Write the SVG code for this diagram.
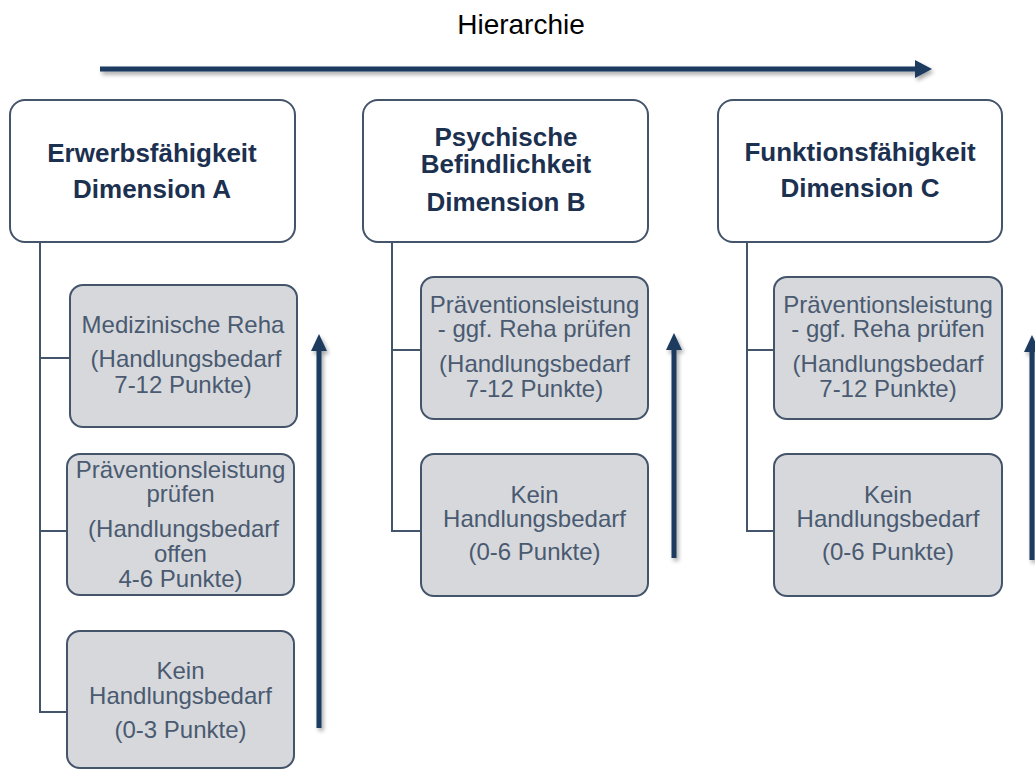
<svg xmlns="http://www.w3.org/2000/svg" width="1035" height="771" viewBox="0 0 1035 771">
<defs>
<filter id="sh" x="-10%" y="-10%" width="130%" height="130%">
<feGaussianBlur in="SourceAlpha" stdDeviation="2"/>
<feOffset dx="2" dy="3" result="b"/>
<feComponentTransfer><feFuncA type="linear" slope="0.35"/></feComponentTransfer>
<feMerge><feMergeNode/><feMergeNode in="SourceGraphic"/></feMerge>
</filter>
</defs>
<style>
.head{fill:#ffffff;stroke:#44546a;stroke-width:2}
.child{fill:#d6d8dc;stroke:#44546a;stroke-width:2}
.ht{font-family:"Liberation Sans",Arial,sans-serif;font-weight:bold;font-size:26px;fill:#1c3050;text-anchor:middle}
.ct{font-family:"Liberation Sans",Arial,sans-serif;font-size:24px;fill:#4a5a70;text-anchor:middle}
.title{font-family:"Liberation Sans",Arial,sans-serif;font-size:28px;fill:#000000;text-anchor:middle}
.conn{fill:none;stroke:#44546a;stroke-width:2}
.arr{stroke:#1b3a5e;stroke-width:5;fill:none}
.ah{fill:#1b3a5e}
</style>
<rect width="1035" height="771" fill="#ffffff"/>
<text class="title" x="521" y="34">Hierarchie</text>
<g id="arrows" filter="url(#sh)">
<line class="arr" x1="100" y1="69" x2="917" y2="69"/>
<polygon class="ah" points="932,69 915,60 915,78"/>
<line class="arr" x1="319" y1="728" x2="319" y2="349"/>
<polygon class="ah" points="319,334 311,351 327,351"/>
<line class="arr" x1="674" y1="558" x2="674" y2="348"/>
<polygon class="ah" points="674,333 666,350 682,350"/>
<line class="arr" x1="1032" y1="560" x2="1032" y2="350"/>
<polygon class="ah" points="1032,335 1024,352 1040,352"/>
</g>
<g id="connectors">
<path class="conn" d="M40 242 V712 H67 M40 358 H70 M40 531 H67"/>
<path class="conn" d="M392 242 V531 H421 M392 350 H421"/>
<path class="conn" d="M747 242 V531 H774 M747 350 H774"/>
</g>
<g id="headA">
<rect class="head" x="10" y="100" width="285" height="142" rx="15"/>
<text class="ht" x="152" y="162">Erwerbsfähigkeit</text>
<text class="ht" x="152" y="198">Dimension A</text>
</g>
<g id="headB">
<rect class="head" x="363" y="100" width="285" height="142" rx="15"/>
<text class="ht" x="506" y="146">Psychische</text>
<text class="ht" x="506" y="173">Befindlichkeit</text>
<text class="ht" x="506" y="211">Dimension B</text>
</g>
<g id="headC">
<rect class="head" x="718" y="100" width="284" height="142" rx="15"/>
<text class="ht" x="860" y="161">Funktionsfähigkeit</text>
<text class="ht" x="860" y="197">Dimension C</text>
</g>
<g id="a1">
<rect class="child" x="70" y="285" width="227" height="142" rx="13"/>
<text class="ct" x="183" y="333">Medizinische Reha</text>
<text class="ct" x="186" y="367">(Handlungsbedarf</text>
<text class="ct" x="183" y="393">7-12 Punkte)</text>
</g>
<g id="a2">
<rect class="child" x="67" y="454" width="227" height="141" rx="13"/>
<text class="ct" x="180.5" y="478">Präventionsleistung</text>
<text class="ct" x="180.5" y="502">prüfen</text>
<text class="ct" x="183.5" y="537">(Handlungsbedarf</text>
<text class="ct" x="180.5" y="562">offen</text>
<text class="ct" x="180.5" y="587">4-6 Punkte)</text>
</g>
<g id="a3">
<rect class="child" x="67" y="631" width="227" height="137" rx="13"/>
<text class="ct" x="180.5" y="679">Kein</text>
<text class="ct" x="180.5" y="704">Handlungsbedarf</text>
<text class="ct" x="180.5" y="738">(0-3 Punkte)</text>
</g>
<g id="b1">
<rect class="child" x="421" y="277" width="227" height="142" rx="13"/>
<text class="ct" x="534.5" y="313">Präventionsleistung</text>
<text class="ct" x="534.5" y="337">- ggf. Reha prüfen</text>
<text class="ct" x="534.5" y="372">(Handlungsbedarf</text>
<text class="ct" x="534.5" y="397">7-12 Punkte)</text>
</g>
<g id="b2">
<rect class="child" x="421" y="454" width="227" height="142" rx="13"/>
<text class="ct" x="534.5" y="503">Kein</text>
<text class="ct" x="534.5" y="527">Handlungsbedarf</text>
<text class="ct" x="534.5" y="560">(0-6 Punkte)</text>
</g>
<g id="c1">
<rect class="child" x="774" y="277" width="228" height="142" rx="13"/>
<text class="ct" x="888" y="313">Präventionsleistung</text>
<text class="ct" x="888" y="337">- ggf. Reha prüfen</text>
<text class="ct" x="888" y="372">(Handlungsbedarf</text>
<text class="ct" x="888" y="397">7-12 Punkte)</text>
</g>
<g id="c2">
<rect class="child" x="774" y="454" width="228" height="142" rx="13"/>
<text class="ct" x="888" y="503">Kein</text>
<text class="ct" x="888" y="527">Handlungsbedarf</text>
<text class="ct" x="888" y="560">(0-6 Punkte)</text>
</g>
</svg>
